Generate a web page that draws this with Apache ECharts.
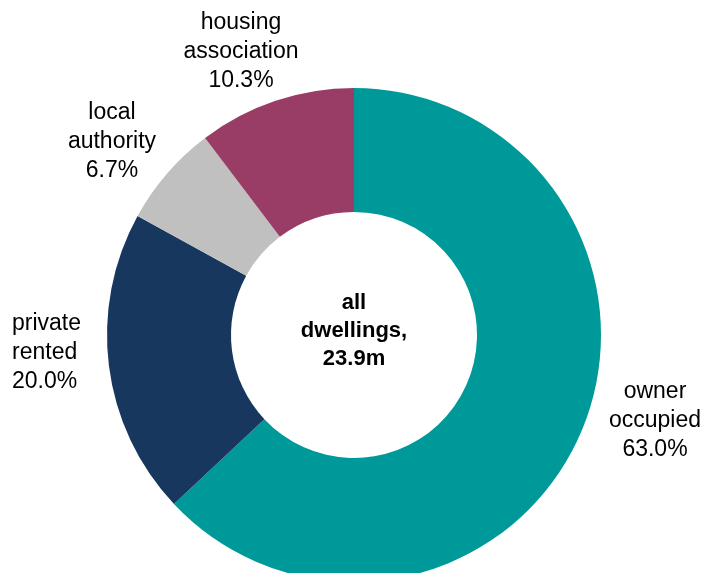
<!DOCTYPE html>
<html>
<head>
<meta charset="utf-8">
<style>
  html, body { margin: 0; padding: 0; background: #fff; }
  #chart { width: 709px; height: 573px; }
</style>
<script src="https://cdn.jsdelivr.net/npm/echarts@6/dist/echarts.min.js"></script>
</head>
<body>
<div id="chart"></div>
<script>
// tenure split of all dwellings
const tenures = ["owner occupied", "private rented", "local authority", "housing association"]
const labelNames = ["owner\noccupied", "private\nrented", "local\nauthority", "housing\nassociation"]
const shares = [63.0, 20.0, 6.7, 10.3]
const centreText = "all\ndwellings,\n23.9m"

const colors = ["#009999", "#17375E", "#C0C0C0", "#993D66"]
// label anchor spots (x, y, align)
const labelSpots = [
  [655, 421, "center"],
  [12, 353, "left"],
  [112, 142, "center"],
  [241, 52, "center"]
]

const chart = echarts.init(document.getElementById("chart"))

chart.setOption({
  backgroundColor: "#fff",
  animation: false,
  color: colors,
  graphic: [
    {
      type: "text",
      x: 354,
      y: 331,
      z: 10,
      style: {
        text: centreText,
        font: "bold 22px 'Liberation Sans', Arial, sans-serif",
        fill: "#000",
        align: "center",
        verticalAlign: "middle",
        lineHeight: 28
      }
    }
  ],
  series: [
    {
      type: "pie",
      center: [354, 335],
      radius: [123, 247],
      startAngle: 90,
      clockwise: true,
      avoidLabelOverlap: false,
      labelLine: { show: false },
      label: {
        show: true,
        position: "outside",
        color: "#000",
        fontFamily: "'Liberation Sans', Arial, sans-serif",
        fontSize: 23,
        lineHeight: 29,
        formatter: p => labelNames[p.dataIndex] + "\n" + shares[p.dataIndex].toFixed(1) + "%"
      },
      labelLayout(params) {
        const s = labelSpots[params.dataIndex]
        return {
          x: s[0],
          y: s[1],
          align: s[2],
          verticalAlign: "middle"
        }
      },
      emphasis: { disabled: true },
      data: tenures.map((name, i) => ({ name, value: shares[i] }))
    }
  ]
})
</script>
</body>
</html>
